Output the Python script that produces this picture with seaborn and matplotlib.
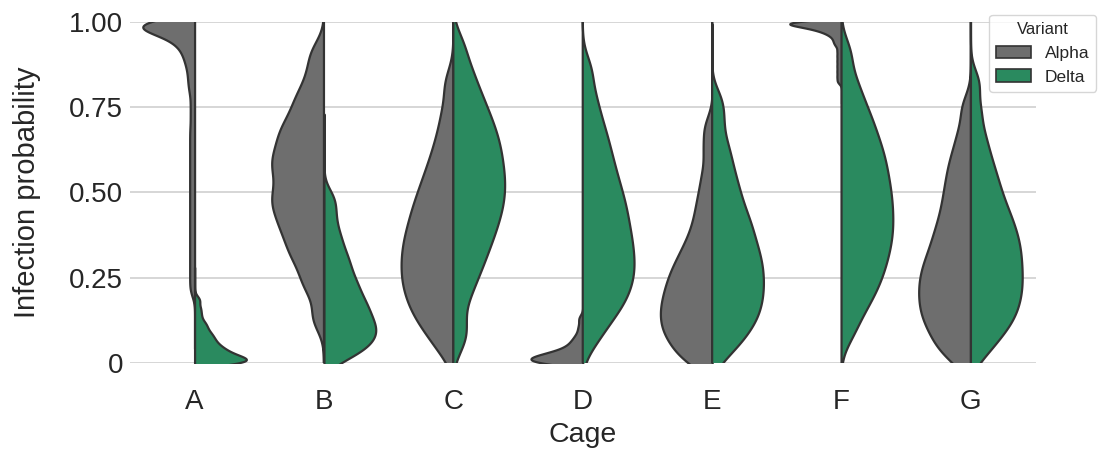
import pandas as pd
import matplotlib.pyplot as plt
import seaborn as sns
from matplotlib.patches import Patch

# Cages and variants
cages = ["A", "B", "C", "D", "E", "F", "G"]
variants = ["Alpha", "Delta"]

# Infection probability samples per cage
alpha_A = [1.0, 1.0, 1.0, 1.0, 0.999, 0.997, 0.996, 0.994, 0.992, 0.990, 0.988, 0.986, 0.984,
           0.982, 0.979, 0.976, 0.974, 0.971, 0.967, 0.963, 0.959, 0.954, 0.948, 0.942, 0.933,
           0.925, 0.915, 0.903, 0.890, 0.876, 0.858, 0.837, 0.816, 0.792, 0.758, 0.724, 0.69,
           0.66, 0.63, 0.60, 0.57, 0.54, 0.51, 0.48, 0.45, 0.42, 0.39, 0.36, 0.33, 0.30, 0.27,
           0.24, 0.21]
delta_A = [0.0, 0.0, 0.0, 0.001, 0.003, 0.005, 0.007, 0.009, 0.012, 0.015, 0.017, 0.020, 0.023,
           0.026, 0.029, 0.034, 0.038, 0.042, 0.046, 0.051, 0.057, 0.063, 0.069, 0.076, 0.083,
           0.090, 0.100, 0.111, 0.121, 0.14, 0.16, 0.185]

alpha_B = [0.13, 0.21, 0.25, 0.29, 0.32, 0.34, 0.37, 0.39, 0.41, 0.43, 0.45, 0.47, 0.48, 0.50,
           0.52, 0.54, 0.56, 0.58, 0.59, 0.61, 0.63, 0.65, 0.67, 0.69, 0.71, 0.74, 0.77, 0.80,
           0.85, 0.91]
delta_B = [0.010, 0.023, 0.035, 0.045, 0.054, 0.062, 0.071, 0.079, 0.087, 0.094, 0.102, 0.110,
           0.118, 0.127, 0.135, 0.145, 0.154, 0.164, 0.173, 0.182, 0.193, 0.205, 0.217, 0.229,
           0.241, 0.254, 0.270, 0.286, 0.302, 0.318, 0.339, 0.362, 0.386, 0.419, 0.455, 0.49]

alpha_C = [0.034, 0.072, 0.101, 0.120, 0.140, 0.158, 0.174, 0.190, 0.206, 0.220, 0.235, 0.249,
           0.263, 0.277, 0.292, 0.306, 0.320, 0.334, 0.349, 0.364, 0.379, 0.394, 0.411, 0.428,
           0.445, 0.463, 0.482, 0.502, 0.525, 0.547, 0.575, 0.604, 0.640, 0.683, 0.74, 0.82]
delta_C = [0.06, 0.111, 0.180, 0.223, 0.257, 0.285, 0.310, 0.333, 0.355, 0.374, 0.393, 0.411,
           0.428, 0.445, 0.461, 0.476, 0.492, 0.507, 0.523, 0.538, 0.553, 0.569, 0.585, 0.601,
           0.618, 0.634, 0.651, 0.669, 0.687, 0.706, 0.728, 0.749, 0.775, 0.802, 0.836, 0.875,
           0.935]

alpha_D = [0.0, 0.0, 0.0, 0.001, 0.003, 0.004, 0.006, 0.008, 0.009, 0.011, 0.013, 0.015, 0.016,
           0.018, 0.020, 0.023, 0.025, 0.027, 0.030, 0.033, 0.037, 0.042, 0.048, 0.055, 0.063,
           0.072, 0.085, 0.105, 0.13]
delta_D = [0.0575, 0.102, 0.128, 0.153, 0.171, 0.189, 0.206, 0.222, 0.237, 0.253, 0.268, 0.282,
           0.297, 0.312, 0.328, 0.343, 0.358, 0.374, 0.390, 0.407, 0.424, 0.441, 0.458, 0.477,
           0.495, 0.515, 0.536, 0.558, 0.582, 0.607, 0.634, 0.664, 0.696, 0.737, 0.787, 0.86]

alpha_E = [0.0, 0.010, 0.028, 0.047, 0.061, 0.073, 0.085, 0.098, 0.109, 0.120, 0.132, 0.143,
           0.154, 0.166, 0.177, 0.189, 0.201, 0.213, 0.226, 0.239, 0.252, 0.266, 0.280, 0.295,
           0.312, 0.331, 0.349, 0.374, 0.400, 0.432, 0.466, 0.506, 0.556, 0.624, 0.69]
delta_E = [0.019, 0.054, 0.074, 0.095, 0.112, 0.128, 0.143, 0.158, 0.172, 0.186, 0.200, 0.214,
           0.228, 0.241, 0.255, 0.269, 0.283, 0.297, 0.311, 0.326, 0.341, 0.357, 0.374, 0.391,
           0.408, 0.427, 0.446, 0.469, 0.492, 0.518, 0.545, 0.577, 0.612, 0.653, 0.712, 0.77]

alpha_F = [1.0, 1.0, 1.0, 1.0, 1.0, 0.999, 0.998, 0.997, 0.996, 0.995, 0.993, 0.992, 0.991,
           0.990, 0.988, 0.986, 0.985, 0.983, 0.981, 0.979, 0.976, 0.973, 0.970, 0.966, 0.961,
           0.955, 0.947, 0.939, 0.93, 0.915, 0.90, 0.885, 0.87, 0.855, 0.84, 0.825]
delta_F = [0.084, 0.137, 0.170, 0.198, 0.221, 0.243, 0.263, 0.282, 0.301, 0.319, 0.336, 0.353,
           0.369, 0.386, 0.402, 0.418, 0.434, 0.451, 0.467, 0.484, 0.500, 0.517, 0.535, 0.552,
           0.571, 0.589, 0.608, 0.628, 0.648, 0.672, 0.695, 0.722, 0.751, 0.788, 0.834, 0.91]

alpha_G = [0.0, 0.03, 0.047, 0.066, 0.085, 0.102, 0.116, 0.130, 0.145, 0.158, 0.171, 0.185,
           0.198, 0.211, 0.225, 0.238, 0.251, 0.265, 0.279, 0.293, 0.308, 0.324, 0.341, 0.358,
           0.377, 0.395, 0.416, 0.438, 0.461, 0.486, 0.511, 0.538, 0.567, 0.597, 0.634, 0.681,
           0.75]
delta_G = [0.023, 0.060, 0.084, 0.105, 0.122, 0.139, 0.155, 0.170, 0.185, 0.200, 0.214, 0.228,
           0.243, 0.257, 0.271, 0.286, 0.300, 0.315, 0.330, 0.344, 0.359, 0.375, 0.391, 0.407,
           0.425, 0.443, 0.463, 0.485, 0.508, 0.534, 0.561, 0.593, 0.630, 0.676, 0.74, 0.82]

alpha_samples = [alpha_A, alpha_B, alpha_C, alpha_D, alpha_E, alpha_F, alpha_G]
delta_samples = [delta_A, delta_B, delta_C, delta_D, delta_E, delta_F, delta_G]

# KDE bandwidth (in probability units) for each half
bw_alpha = [0.021, 0.04, 0.045, 0.012, 0.038, 0.008, 0.04]
bw_delta = [0.012, 0.03, 0.045, 0.045, 0.04, 0.045, 0.04]

colors = {"Alpha": "#6e6e6e", "Delta": "#2a8a5f"}
edge = "#333333"

rows = []
for cage, a, d in zip(cages, alpha_samples, delta_samples):
    rows += [(cage, "Alpha", v) for v in a]
    rows += [(cage, "Delta", v) for v in d]
data = pd.DataFrame(rows, columns=["Cage", "Variant", "Infection probability"])


def fixed_bw(h):
    return lambda kde: h / kde.dataset[0].std(ddof=1)


sns.set_theme(style="whitegrid")
plt.rcParams["font.family"] = ["Liberation Sans", "DejaVu Sans"]

fig, ax = plt.subplots(figsize=(11.1, 4.55), dpi=100)
fig.subplots_adjust(left=0.117, right=0.933, bottom=0.202, top=0.952)

# one half-violin at a time so each gets its own bandwidth;
# a long cut lets the thin tails run out to the axis limits
for i, cage in enumerate(cages):
    for variant, bws in (("Alpha", bw_alpha), ("Delta", bw_delta)):
        sub = data[(data["Cage"] == cage) & (data["Variant"] == variant)]
        sns.violinplot(data=sub, x="Cage", y="Infection probability", hue="Variant",
                       order=cages, hue_order=variants, split=True, dodge=True,
                       inner=None, density_norm="width", bw_method=fixed_bw(bws[i]),
                       cut=8, gridsize=600, palette=colors, saturation=1, linewidth=1.6,
                       linecolor=edge, legend=False, ax=ax)

ax.set_xlim(-0.5, 6.5)
ax.set_ylim(0, 1)
ax.set_yticks([0, 0.25, 0.5, 0.75, 1.0])
ax.set_yticklabels(["0", "0.25", "0.50", "0.75", "1.00"])
ax.xaxis.grid(False)
ax.yaxis.grid(True, color="#cccccc", linewidth=1.1)
ax.tick_params(axis="both", length=0, labelsize=20)
ax.tick_params(axis="x", pad=19)
ax.tick_params(axis="y", pad=5)
ax.set_xlabel("Cage", fontsize=20.5, labelpad=5)
ax.set_ylabel("Infection probability", fontsize=21, labelpad=20)
sns.despine(left=True, bottom=True)

handles = [Patch(facecolor=colors[v], edgecolor=edge, linewidth=1.2, label=v) for v in variants]
ax.legend(handles=handles, title="Variant", loc="upper right", bbox_to_anchor=(1.067, 1.02),
          borderaxespad=0, fontsize=12.5, title_fontsize=12, frameon=True)

plt.savefig("out.png", dpi=100)
